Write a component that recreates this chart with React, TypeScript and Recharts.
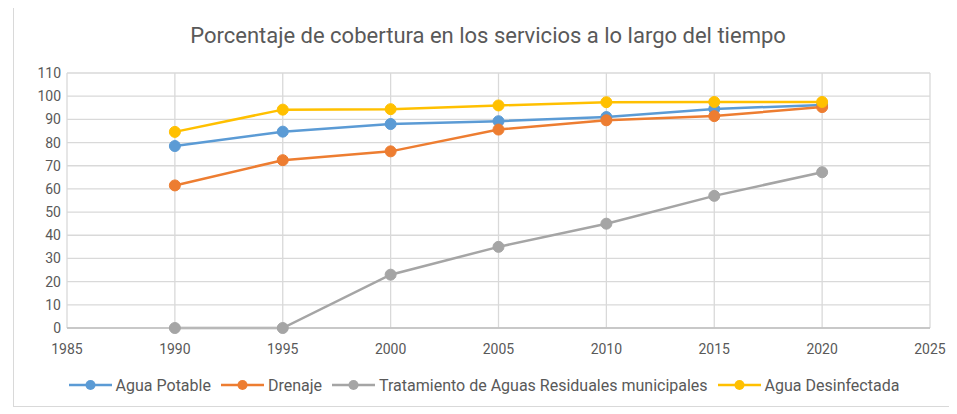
import { LineChart, Line, XAxis, YAxis, CartesianGrid, Legend } from 'recharts';

const years = [1990, 1995, 2000, 2005, 2010, 2015, 2020];
const aguaPotable = [78.5, 84.7, 88.0, 89.2, 91.0, 94.5, 96.2];
const drenaje = [61.5, 72.4, 76.2, 85.6, 89.6, 91.4, 95.3];
const tratamiento = [0, 0, 23.0, 35.0, 45.0, 57.0, 67.2];
const aguaDesinfectada = [84.6, 94.2, 94.4, 96.0, 97.4, 97.5, 97.5];

const xTicks = [1985, 1990, 1995, 2000, 2005, 2010, 2015, 2020, 2025];
const yTicks = [0, 10, 20, 30, 40, 50, 60, 70, 80, 90, 100, 110];

const series = [
  { key: 'potable', name: 'Agua Potable', color: '#5B9BD5' },
  { key: 'drenaje', name: 'Drenaje', color: '#ED7D31' },
  { key: 'tratamiento', name: 'Tratamiento de Aguas Residuales municipales', color: '#A5A5A5' },
  { key: 'desinfectada', name: 'Agua Desinfectada', color: '#FFC000' },
];

const data = years.map((year, i) => ({
  year,
  potable: aguaPotable[i],
  drenaje: drenaje[i],
  tratamiento: tratamiento[i],
  desinfectada: aguaDesinfectada[i],
}));

const font = 'Roboto, "Open Sans", sans-serif';

function LegendContent() {
  return (
    <div style={{ display: 'flex', justifyContent: 'center', alignItems: 'center', height: 48, paddingTop: 6, boxSizing: 'border-box', gap: 10, paddingLeft: 24 }}>
      {series.map((s) => (
        <div key={s.key} style={{ display: 'flex', alignItems: 'center', gap: 4 }}>
          <svg width={43} height={12}>
            <line x1={0} y1={6} x2={43} y2={6} stroke={s.color} strokeWidth={2.5} />
            <circle cx={21.5} cy={6} r={5} fill={s.color} />
          </svg>
          <span style={{ fontFamily: font, fontSize: 16, color: '#595959' }}>{s.name}</span>
        </div>
      ))}
    </div>
  );
}

export default function App() {
  return (
    <div
      style={{
        position: 'relative',
        width: 940,
        height: 400,
        marginLeft: 5,
        marginTop: -3,
        borderLeft: '1px solid #d9d9d9',
        borderTop: '1px solid #d9d9d9',
        borderBottom: '1px solid #d9d9d9',
        background: '#fff',
      }}
    >
      <div
        style={{
          position: 'absolute',
          top: 17,
          left: 4,
          width: 940,
          textAlign: 'center',
          fontFamily: font,
          fontSize: 22,
          color: '#595959',
        }}
      >
        Porcentaje de cobertura en los servicios a lo largo del tiempo
      </div>
      <LineChart width={940} height={400} data={data} margin={{ top: 67, right: 24, left: 0, bottom: 0 }}>
        <CartesianGrid stroke="#d9d9d9" strokeWidth={1.3} />
        <XAxis
          dataKey="year"
          type="number"
          domain={[1985, 2025]}
          ticks={xTicks}
          tickLine={false}
          tickSize={0}
          tickMargin={16}
          height={30}
          axisLine={{ stroke: '#bfbfbf', strokeWidth: 1.3 }}
          tick={{ fill: '#595959', fontSize: 14, fontFamily: font }}
        />
        <YAxis
          type="number"
          domain={[0, 110]}
          ticks={yTicks}
          width={53}
          tickLine={false}
          tickSize={0}
          tickMargin={6}
          axisLine={false}
          tick={{ fill: '#595959', fontSize: 14, fontFamily: font }}
        />
        <Legend verticalAlign="bottom" height={48} content={<LegendContent />} />
        {series.map((s) => (
          <Line
            key={s.key}
            dataKey={s.key}
            name={s.name}
            stroke={s.color}
            strokeWidth={2.5}
            dot={{ r: 5.5, fill: s.color, stroke: s.color, strokeWidth: 1 }}
            activeDot={false}
            isAnimationActive={false}
          />
        ))}
      </LineChart>
    </div>
  );
}
